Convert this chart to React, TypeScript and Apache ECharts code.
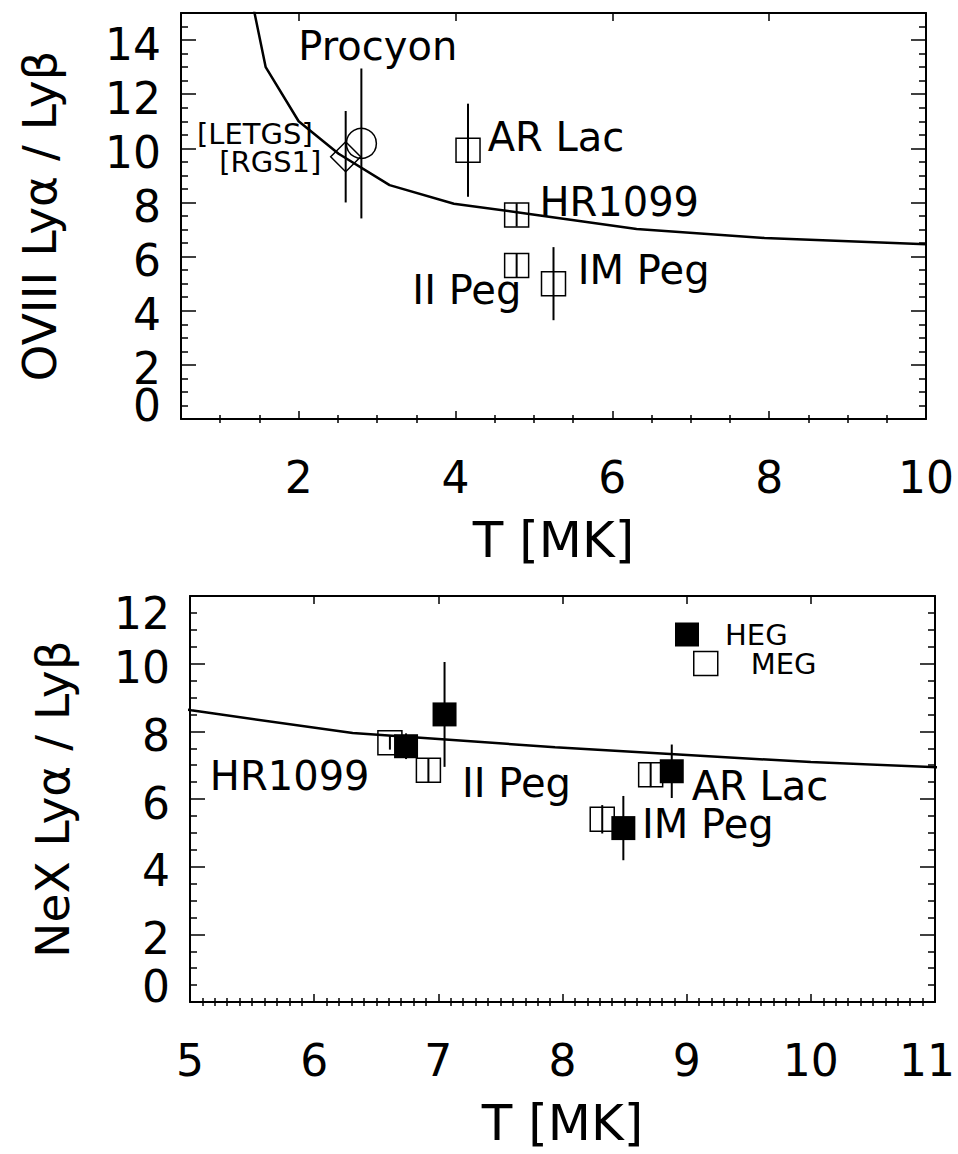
import React, { useEffect, useRef } from "react";
import * as echarts from "echarts";

const FONT = '"DejaVu Sans", sans-serif';

// ---------- top panel (O VIII) ----------
const topCurveT = [1.26, 1.58, 2.0, 2.51, 3.16, 3.98, 5.01, 6.31, 7.94, 10.0];
const topCurveRatio = [17.5, 13.0, 11.0, 9.8, 8.64, 7.95, 7.55, 7.02, 6.69, 6.46];

const letgsT = [2.8];
const letgsRatio = [10.18];
const letgsErr = [2.77];

const rgsT = [2.6];
const rgsRatio = [9.69];
const rgsErr = [1.69];

const topStarT = [4.16, 4.78, 4.78, 5.25];
const topStarRatio = [9.93, 7.54, 5.67, 5.0];
const topStarErr = [1.72, 0.43, 0.46, 1.35];

const topXMajor = [2, 4, 6, 8, 10];
const topXMinor = [1, 1.5, 2.5, 3, 3.5, 4.5, 5, 5.5, 6.5, 7, 7.5, 8.5, 9, 9.5];
const topYMajor = [0, 2, 4, 6, 8, 10, 12, 14];
const topYEndLabels = [0];
const topYMinor = [0.5, 1, 1.5, 2.5, 3, 3.5, 4.5, 5, 5.5, 6.5, 7, 7.5, 8.5, 9, 9.5, 10.5, 11, 11.5, 12.5, 13, 13.5, 14.5];

const topNotesText = ["Procyon", "[LETGS]", "[RGS1]", "AR Lac", "HR1099", "IM Peg", "II Peg"];
const topNotesT = [3.01, 2.18, 2.29, 4.41, 5.07, 5.56, 4.84];
const topNotesR = [13.77, 10.52, 9.49, 10.41, 8.02, 5.51, 4.77];
const topNotesAlign = ["center", "right", "right", "left", "left", "left", "right"];
const topNotesSize = [40, 29, 29, 40, 40, 40, 40];

// ---------- bottom panel (Ne X) ----------
const botCurveT = [3.98, 5.01, 6.31, 7.94, 10.0, 12.59];
const botCurveRatio = [9.25, 8.62, 7.95, 7.53, 7.09, 6.7];

const hegT = [6.74, 7.05, 8.88, 8.49];
const hegRatio = [7.56, 8.5, 6.82, 5.14];
const hegErr = [0.38, 1.55, 0.79, 0.95];

const megT = [6.61, 6.92, 8.71, 8.32];
const megRatio = [7.66, 6.85, 6.72, 5.4];
const megErr = [0.2, 0.35, 0.37, 0.42];

const botXMajor = [5, 6, 7, 8, 9, 10, 11];
const botXMinor: number[] = [];
for (let i = 50; i <= 110; i++) if (i % 10 !== 0) botXMinor.push(i / 10);
const botYMajor = [0, 2, 4, 6, 8, 10, 12];
const botYEndLabels = [0, 12];
const botYMinor = [0.5, 1, 1.5, 2.5, 3, 3.5, 4.5, 5, 5.5, 6.5, 7, 7.5, 8.5, 9, 9.5, 10.5, 11, 11.5];

const botNotesText = ["HR1099", "II Peg", "AR Lac", "IM Peg"];
const botNotesT = [5.16, 7.19, 9.04, 8.64];
const botNotesR = [6.67, 6.48, 6.39, 5.26];

const zip = (a: number[], b: number[]) => a.map((v, i) => [v, b[i]]);
const zip3 = (a: number[], b: number[], c: number[]) => a.map((v, i) => [v, b[i], c[i]]);

const lbl = (pad: number[]) => ({ fontSize: 44, lineHeight: 30, fontFamily: FONT, color: "#000", padding: pad });

function xAxes(grid: number, min: number, max: number, major: number[], minor: number[], majLen: number, minLen: number, nameGap: number, rich: any, fmt: (v: number) => string) {
  const base = { gridIndex: grid, type: "value", min, max, splitLine: { show: false } };
  const tick = (vals: number[], len: number) => ({ show: true, inside: true, length: len, customValues: vals, lineStyle: { color: "#000", width: 1.5 } });
  return [
    {
      ...base, position: "bottom",
      axisLine: { show: true, onZero: false, lineStyle: { color: "#000", width: 2 } },
      axisTick: tick(major, majLen),
      axisLabel: { show: true, customValues: major, fontSize: 44, color: "#000", fontFamily: FONT, margin: 43, showMinLabel: true, showMaxLabel: true, formatter: fmt, rich },
      name: "T [MK]", nameLocation: "middle", nameGap,
      nameTextStyle: { fontSize: 50, color: "#000", fontFamily: FONT },
    },
    { ...base, position: "bottom", axisLine: { show: false }, axisTick: tick(minor, minLen), axisLabel: { show: false } },
    { ...base, position: "top", axisLine: { show: true, onZero: false, lineStyle: { color: "#000", width: 2 } }, axisTick: tick(major, majLen), axisLabel: { show: false } },
    { ...base, position: "top", axisLine: { show: false }, axisTick: tick(minor, minLen), axisLabel: { show: false } },
  ];
}

// labels at the ends of the y range sit inside the frame, as IDL draws them; they live on the
// minor-tick axis so that the main axis does not drop a neighbouring label
function yAxes(grid: number, min: number, max: number, major: number[], ends: number[], minor: number[], name: string, nameGap: number, endRich: any, endFmt: (v: number) => string) {
  const base = { gridIndex: grid, type: "value", min, max, splitLine: { show: false } };
  const tick = (vals: number[], len: number) => ({ show: true, inside: true, length: len, customValues: vals, lineStyle: { color: "#000", width: 1.5 } });
  const inner = major.filter((v) => ends.indexOf(v) < 0);
  return [
    {
      ...base, position: "left",
      axisLine: { show: true, onZero: false, lineStyle: { color: "#000", width: 2 } },
      axisTick: tick(major, 15),
      axisLabel: {
        show: true, customValues: inner, fontSize: 44, color: "#000", fontFamily: FONT, margin: 20,
        showMinLabel: true, showMaxLabel: true, hideOverlap: false,
        formatter: (v: number) => `{n|${v}}`, rich: { n: lbl([8, 0, 0, 0]) },
      },
      name, nameLocation: "middle", nameGap,
      nameTextStyle: { fontSize: 47, color: "#000", fontFamily: FONT },
    },
    {
      ...base, position: "left", axisLine: { show: false }, axisTick: tick(minor, 7),
      axisLabel: { show: true, customValues: ends, fontSize: 44, color: "#000", fontFamily: FONT, margin: 20, showMinLabel: true, showMaxLabel: true, hideOverlap: false, formatter: endFmt, rich: endRich },
    },
    { ...base, position: "right", axisLine: { show: true, onZero: false, lineStyle: { color: "#000", width: 2 } }, axisTick: tick(major, 15), axisLabel: { show: false } },
    { ...base, position: "right", axisLine: { show: false }, axisTick: tick(minor, 7), axisLabel: { show: false } },
  ];
}

const errorBars = (xi: number, yi: number, data: number[][]) => ({
  type: "custom", xAxisIndex: xi, yAxisIndex: yi, z: 2, silent: true,
  data,
  encode: { x: 0, y: 1 },
  renderItem: (_p: any, api: any) => {
    const x = api.value(0), y = api.value(1), e = api.value(2);
    const a = api.coord([x, y - e]);
    const b = api.coord([x, y + e]);
    return { type: "line", shape: { x1: a[0], y1: a[1], x2: b[0], y2: b[1] }, style: { stroke: "#000", lineWidth: 2 } };
  },
});

const openStyle = { color: "rgba(0,0,0,0)", borderColor: "#000", borderWidth: 1.5, opacity: 1 };

function notes(xi: number, yi: number, text: string[], t: number[], r: number[], align: string[], size: number[]) {
  return {
    type: "scatter", xAxisIndex: xi, yAxisIndex: yi, silent: true, z: 5,
    symbol: "circle", symbolSize: 1, itemStyle: { color: "rgba(0,0,0,0)", opacity: 1 },
    data: text.map((s, i) => ({
      name: s, value: [t[i], r[i]],
      label: { show: true, position: "inside", align: align[i], verticalAlign: "middle", fontSize: size[i], lineHeight: Math.round(size[i] * 0.8), color: "#000", opacity: 1, fontFamily: FONT, formatter: "{b}" },
    })),
  };
}

export default function App() {
  const ref = useRef<HTMLDivElement>(null);
  useEffect(() => {
    if (!ref.current) return;
    const chart = echarts.init(ref.current, undefined, { renderer: "svg" });
    const option: any = {
      animation: false,
      backgroundColor: "#fff",
      textStyle: { fontFamily: FONT },
      grid: [
        { left: 181, top: 13, width: 745, height: 406, containLabel: false, outerBoundsMode: "none" },
        { left: 190, top: 596, width: 745, height: 406, containLabel: false, outerBoundsMode: "none" },
      ],
      xAxis: [
        ...xAxes(0, 0.5, 10, topXMajor, topXMinor, 8, 4, 96, { n: lbl([0, 0, 0, 0]) }, (v: number) => `{n|${v}}`),
        ...xAxes(1, 5, 11, botXMajor, botXMinor, 8, 4, 96,
          { n: lbl([0, 0, 0, 0]), r: lbl([0, 16, 0, 0]) },
          (v: number) => (v === 11 ? "{r|11}" : `{n|${v}}`)),
      ],
      yAxis: [
        ...yAxes(0, 0, 15, topYMajor, topYEndLabels, topYMinor, "OVIII Lyα / Lyβ", 118,
          { lo: lbl([0, 0, 27, 0]) },
          () => "{lo|0}"),
        ...yAxes(1, 0, 12, botYMajor, botYEndLabels, botYMinor, "NeX Lyα / Lyβ", 114,
          { lo: lbl([0, 0, 31, 0]), hi: lbl([34, 0, 0, 0]) },
          (v: number) => (v === 0 ? "{lo|0}" : `{hi|${v}}`)),
      ],
      legend: [
        {
          left: 675, top: 620, padding: 0, itemWidth: 24, itemHeight: 24, selectedMode: false,
          data: [{ name: "HEG", icon: "rect", itemStyle: { color: "#000", opacity: 1 } }],
          textStyle: { fontSize: 29, lineHeight: 24, color: "#000", fontFamily: FONT, padding: [0, 0, 0, 21] },
        },
        {
          left: 693, top: 649, padding: 0, itemWidth: 24, itemHeight: 24, selectedMode: false,
          data: [{ name: "MEG", icon: "rect", itemStyle: openStyle }],
          textStyle: { fontSize: 29, lineHeight: 24, color: "#000", fontFamily: FONT, padding: [0, 0, 0, 28] },
        },
      ],
      series: [
        // top panel
        { type: "line", name: "model O", xAxisIndex: 0, yAxisIndex: 0, data: zip(topCurveT, topCurveRatio), symbol: "none", clip: true, lineStyle: { color: "#000", width: 2.5 }, silent: true, z: 1 },
        errorBars(0, 0, zip3(letgsT, letgsRatio, letgsErr)),
        errorBars(0, 0, zip3(rgsT, rgsRatio, rgsErr)),
        errorBars(0, 0, zip3(topStarT, topStarRatio, topStarErr)),
        { type: "scatter", name: "LETGS", xAxisIndex: 0, yAxisIndex: 0, z: 3, symbol: "circle", symbolSize: 30, itemStyle: openStyle, data: zip(letgsT, letgsRatio) },
        { type: "scatter", name: "RGS1", xAxisIndex: 0, yAxisIndex: 0, z: 3, symbol: "diamond", symbolSize: 30, itemStyle: openStyle, data: zip(rgsT, rgsRatio) },
        { type: "scatter", name: "HETGS O", xAxisIndex: 0, yAxisIndex: 0, z: 3, symbol: "rect", symbolSize: 24, itemStyle: openStyle, data: zip(topStarT, topStarRatio) },
        notes(0, 0, topNotesText, topNotesT, topNotesR, topNotesAlign, topNotesSize),
        // bottom panel
        { type: "line", name: "model Ne", xAxisIndex: 4, yAxisIndex: 4, data: zip(botCurveT, botCurveRatio), symbol: "none", clip: true, lineStyle: { color: "#000", width: 2.5 }, silent: true, z: 1 },
        errorBars(4, 4, zip3(megT, megRatio, megErr)),
        errorBars(4, 4, zip3(hegT, hegRatio, hegErr)),
        { type: "scatter", name: "MEG", xAxisIndex: 4, yAxisIndex: 4, z: 3, symbol: "rect", symbolSize: 24, itemStyle: openStyle, data: zip(megT, megRatio) },
        { type: "scatter", name: "HEG", xAxisIndex: 4, yAxisIndex: 4, z: 4, symbol: "rect", symbolSize: 24, itemStyle: { color: "#000", opacity: 1 }, data: zip(hegT, hegRatio) },
        notes(4, 4, botNotesText, botNotesT, botNotesR, ["left", "left", "left", "left"], [40, 40, 40, 40]),
      ],
    };
    chart.setOption(option);
    return () => chart.dispose();
  }, []);
  return <div ref={ref} style={{ position: "absolute", left: 0, top: 0, width: 958, height: 1154, background: "#fff" }} />;
}
